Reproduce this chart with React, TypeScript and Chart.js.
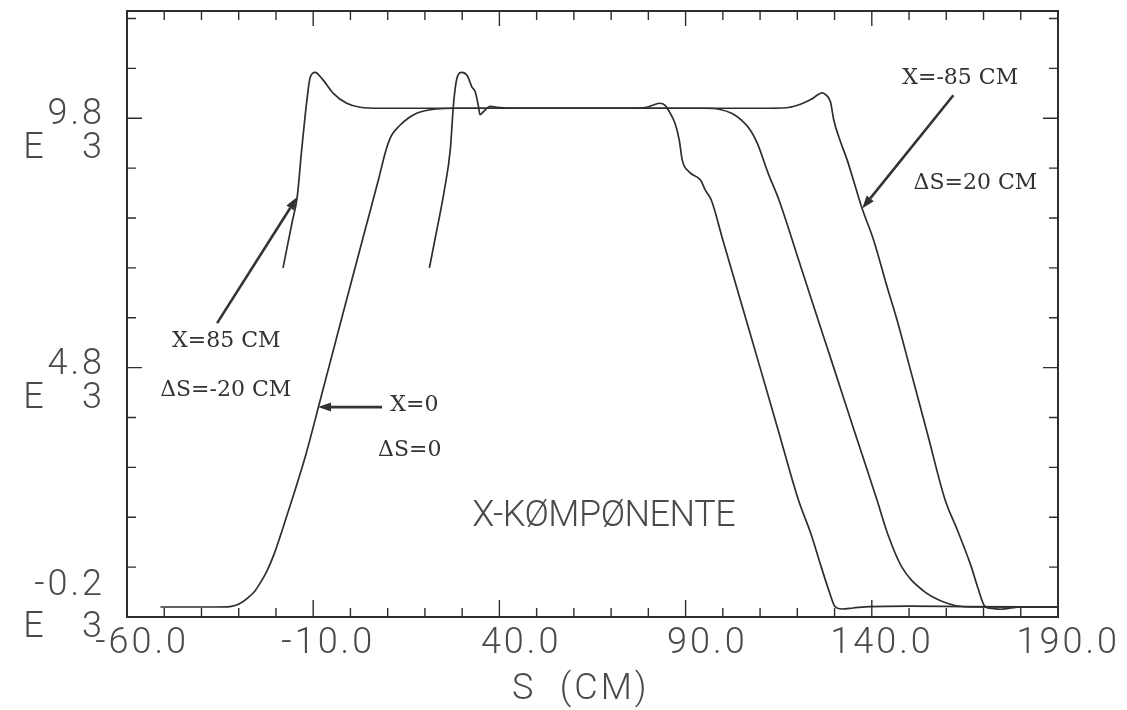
import { useEffect, useRef } from "react";
import { Chart, registerables } from "chart.js";

Chart.register(...registerables);

// ---------- axis definitions ----------
const sMin = -60;
const sMax = 190;
const vMin = -200;
const vMax = 11950;
const xMajorTicks = [-60, -10, 40, 90, 140, 190];
const xTickLabels = ["-60.0", "-10.0", "40.0", "90.0", "140.0", "190.0"];
const xMinorStep = 10;
const yMajorTicks = [-200, 4800, 9800];
const yTickLabels = ["-0.2", "4.8", "9.8"];
const yExponent = "3";
const yMinorStep = 1000;
const xTitle = "S  (CM)  ";
const componentTitle = "X-KØMPØNENTE";

// ---------- series: X = 85 CM, ΔS = -20 CM ----------
const x85S = [-18.1, -15.7, -14.3, -13.1, -11.7, -10.8, -9.5, -7.7, -4.6, -1.0, 2.6, 8, 20, 40, 60, 75, 79.5, 81.5, 83, 84.5, 85.4, 87.2, 88.3, 89.1, 91, 94, 95.3, 96.9, 100, 105, 110, 115, 120.3, 123.6, 126.4, 128.7, 130.1, 132, 135, 139.5, 150, 165, 190];
const x85V = [6800, 7700, 8220, 9160, 10160, 10620, 10720, 10600, 10300, 10100, 10020, 10000, 10000, 10000, 10000, 10000, 10020, 10070, 10100, 10060, 9960, 9690, 9360, 8960, 8720, 8560, 8360, 8160, 7360, 6080, 4800, 3510, 2145, 1480, 810, 280, 10, -40, -20, 10, 20, 10, 0];

// ---------- series: X = 0, ΔS = 0 ----------
const x0S = [-51, -40, -33, -31, -29, -27.5, -26, -24.5, -22.5, -20.5, -18.5, -16, -12, -8, -4, 0, 4, 7.5, 9.5, 11, 13.3, 15.5, 17.8, 20, 23, 28, 50, 70, 95, 99, 102.5, 105, 107.4, 109.3, 112.2, 115.1, 120, 125, 130, 135, 141.4, 144.2, 148, 153.6, 160.2, 164.8, 170, 190];
const x0V = [0, 0, 5, 30, 100, 190, 290, 450, 710, 1060, 1500, 2080, 3050, 4180, 5320, 6450, 7580, 8560, 9150, 9450, 9660, 9800, 9900, 9950, 9985, 10000, 10000, 10000, 10000, 9980, 9894, 9760, 9560, 9290, 8690, 8157, 7040, 5890, 4750, 3600, 2145, 1480, 810, 340, 75, 5, 0, 0];

// ---------- series: X = -85 CM, ΔS = 20 CM ----------
const xm85S = [21.2, 23.2, 25.2, 26.8, 27.7, 28.6, 29.9, 31.3, 32.6, 33.5, 34.4, 34.8, 35.7, 37.5, 39.3, 45, 70, 90, 110, 117, 120, 121.8, 124, 125.5, 126.6, 127.5, 128.9, 129.8, 131.5, 133.4, 135.5, 137.4, 140.5, 144.1, 146.8, 150, 155, 159.7, 163, 166.7, 168.5, 170.4, 172.5, 174.5, 177, 180, 190];
const xm85V = [6800, 7560, 8350, 9160, 10100, 10600, 10720, 10660, 10430, 10330, 10030, 9870, 9930, 10040, 10020, 10000, 10000, 10000, 10000, 10010, 10060, 10110, 10190, 10270, 10310, 10280, 10130, 9760, 9350, 8960, 8450, 7990, 7355, 6420, 5750, 4860, 3460, 2145, 1540, 810, 380, 10, -30, -45, -25, 0, 0];

// ---------- annotations (in data coordinates) ----------
const noteTexts = [
  { text: "X=-85 CM", s: 148.2, v: 10592 },
  { text: "ΔS=20 CM", s: 151.2, v: 8487 },
  { text: "X=85 CM", s: -47.9, v: 5321 },
  { text: "ΔS=-20 CM", s: -51.1, v: 4339 },
  { text: "X=0", s: 10.7, v: 4038 },
  { text: "ΔS=0", s: 7.4, v: 3147 },
];
const noteArrows = [
  { s0: 161.9, v0: 10261, s1: 137.4, v1: 7990 },
  { s0: -35.8, v0: 5692, s1: -14.3, v1: 8220 },
  { s0: 8.5, v0: 4008, s1: -8.7, v1: 4008 },
];
const componentPos = { s: 32.7, v: 1814 };

const plotFont = "Roboto, 'DejaVu Sans', sans-serif";
const plotWeight = 300;
const noteFont = "'DejaVu Serif', serif";
const inkColor = "#2e2e2e";
const textColor = "#4a4a4a";

function toPoints(s: number[], v: number[]) {
  return s.map((sv, i) => ({ x: sv, y: v[i] }));
}

const plotterPlugin = {
  id: "plotter",
  beforeDraw(chart: any) {
    // plotter lettering is widely spaced
    (chart.ctx as any).letterSpacing = "3px";
  },
  afterDraw(chart: any) {
    const { ctx, chartArea: a, scales } = chart;
    const xs = scales.x;
    const ys = scales.y;
    ctx.save();
    // frame
    ctx.strokeStyle = inkColor;
    ctx.lineWidth = 2;
    ctx.strokeRect(a.left, a.top, a.right - a.left, a.bottom - a.top);
    // ticks (inward on all four sides)
    ctx.lineWidth = 1.4;
    ctx.beginPath();
    for (let s = sMin; s <= sMax + 0.001; s += xMinorStep) {
      const px = xs.getPixelForValue(s);
      const major = xMajorTicks.includes(s);
      ctx.moveTo(px, a.bottom);
      ctx.lineTo(px, a.bottom - (major ? 17 : 9));
      ctx.moveTo(px, a.top);
      ctx.lineTo(px, a.top + (major ? 15 : 9));
    }
    for (let v = vMin; v <= vMax; v += yMinorStep) {
      const py = ys.getPixelForValue(v);
      const major = yMajorTicks.includes(v);
      ctx.moveTo(a.left, py);
      ctx.lineTo(a.left + (major ? 15 : 9), py);
      ctx.moveTo(a.right, py);
      ctx.lineTo(a.right - (major ? 15 : 9), py);
    }
    ctx.stroke();

    // component title
    ctx.fillStyle = textColor;
    (ctx as any).letterSpacing = "-0.5px";
    ctx.font = plotWeight + " 36px " + plotFont;
    ctx.textAlign = "left";
    ctx.textBaseline = "middle";
    ctx.fillText(componentTitle, xs.getPixelForValue(componentPos.s), ys.getPixelForValue(componentPos.v));

    // notes
    (ctx as any).letterSpacing = "0px";
    ctx.fillStyle = "#333";
    ctx.font = "22px " + noteFont;
    for (const n of noteTexts) {
      ctx.fillText(n.text, xs.getPixelForValue(n.s), ys.getPixelForValue(n.v));
    }
    // arrows
    ctx.strokeStyle = "#333";
    ctx.fillStyle = "#333";
    ctx.lineWidth = 2.6;
    for (const ar of noteArrows) {
      const x0 = xs.getPixelForValue(ar.s0);
      const y0 = ys.getPixelForValue(ar.v0);
      const x1 = xs.getPixelForValue(ar.s1);
      const y1 = ys.getPixelForValue(ar.v1);
      const ang = Math.atan2(y1 - y0, x1 - x0);
      const hl = 13;
      const hw = 4.5;
      const bx = x1 - hl * Math.cos(ang);
      const by = y1 - hl * Math.sin(ang);
      ctx.beginPath();
      ctx.moveTo(x0, y0);
      ctx.lineTo(bx, by);
      ctx.stroke();
      ctx.beginPath();
      ctx.moveTo(x1, y1);
      ctx.lineTo(bx + hw * Math.sin(ang), by - hw * Math.cos(ang));
      ctx.lineTo(bx - hw * Math.sin(ang), by + hw * Math.cos(ang));
      ctx.closePath();
      ctx.fill();
    }
    ctx.restore();
  },
};

export default function App() {
  const ref = useRef<HTMLCanvasElement>(null);
  useEffect(() => {
    const lineStyle = {
      borderColor: inkColor,
      borderWidth: 1.7,
      pointRadius: 0,
      fill: false,
      cubicInterpolationMode: "monotone" as const,
    };
    const tickFont = { family: plotFont, size: 36, weight: plotWeight, lineHeight: 1 };
    const chart = new Chart(ref.current as HTMLCanvasElement, {
      type: "line",
      data: {
        datasets: [
          { label: "X=85 CM", data: toPoints(x85S, x85V), ...lineStyle },
          { label: "X=0", data: toPoints(x0S, x0V), ...lineStyle },
          { label: "X=-85 CM", data: toPoints(xm85S, xm85V), ...lineStyle },
        ],
      },
      options: {
        animation: false,
        responsive: false,
        devicePixelRatio: 1,
        layout: { padding: { left: 0, top: 11, right: 69, bottom: 0 } },
        plugins: { legend: { display: false }, tooltip: { enabled: false } },
        events: [],
        scales: {
          x: {
            type: "linear",
            min: sMin,
            max: sMax,
            afterBuildTicks: (scale: any) => {
              scale.ticks = xMajorTicks.map((value) => ({ value }));
            },
            afterFit: (scale: any) => {
              scale.height = 93;
              scale.paddingLeft = 0;
              scale.paddingRight = 0;
            },
            grid: { display: false, drawTicks: false },
            border: { display: false },
            ticks: {
              autoSkip: false,
              maxRotation: 0,
              minRotation: 0,
              align: "end",
              labelOffset: 62,
              padding: 9,
              color: textColor,
              font: tickFont,
              callback: (_v: any, i: number) => xTickLabels[i],
            },
            title: {
              display: true,
              text: xTitle,
              color: textColor,
              font: tickFont,
              padding: { top: 0, bottom: 2 },
            },
          },
          y: {
            type: "linear",
            min: vMin,
            max: vMax,
            afterBuildTicks: (scale: any) => {
              scale.ticks = yMajorTicks.map((value) => ({ value }));
            },
            afterFit: (scale: any) => {
              scale.width = 127;
              scale.paddingTop = 0;
              scale.paddingBottom = 0;
            },
            grid: { display: false, drawTicks: false },
            border: { display: false },
            ticks: {
              autoSkip: false,
              padding: 22,
              labelOffset: -3,
              color: textColor,
              font: (ctx: any) => ({
                ...tickFont,
                lineHeight: ctx.index === 0 ? 14 / 36 : 34 / 36,
              }),
              callback: (_v: any, i: number) =>
                i === 0
                  ? [yTickLabels[0], "", "", "E   " + yExponent, ""]
                  : ["", yTickLabels[i], "E   " + yExponent],
            },
          },
        },
      },
      plugins: [plotterPlugin],
    } as any);
    return () => chart.destroy();
  }, []);
  return (
    <div style={{ position: "absolute", left: 0, top: 0, width: 1127, height: 710, background: "#fff" }}>
      <canvas ref={ref} width={1127} height={710} style={{ display: "block" }} />
    </div>
  );
}
